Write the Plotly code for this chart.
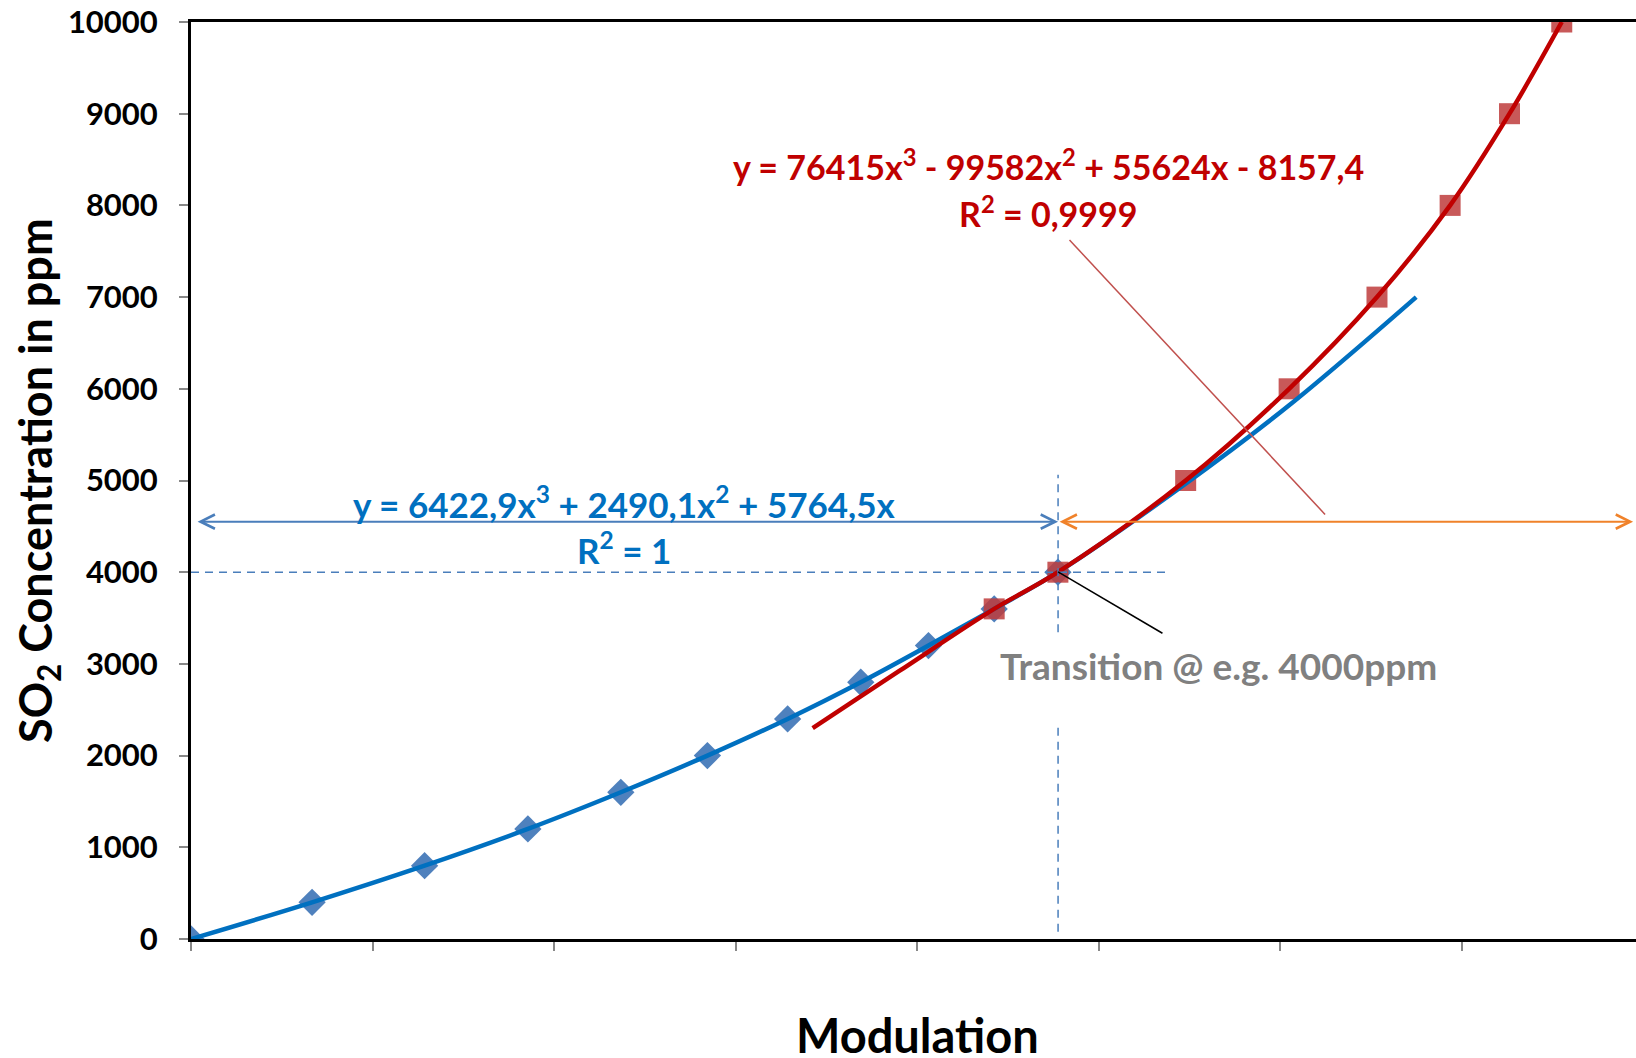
import plotly.graph_objects as go

# ---- data ----
blue_x = [0, 0.0667, 0.1287, 0.1856, 0.2368, 0.2845, 0.3287, 0.369, 0.4063, 0.4425, 0.4776]
blue_y = [0, 400, 800, 1200, 1600, 2000, 2400, 2800, 3200, 3600, 4000]

red_x = [0.4425, 0.4776, 0.548, 0.605, 0.6534, 0.6937, 0.7264, 0.7552]
red_y = [3600, 4000, 5000, 6000, 7000, 8000, 9000, 10000]

blue_trend_x = [0, 0.0667, 0.1287, 0.1856, 0.2368, 0.2845, 0.3287, 0.369, 0.4063,
                0.4425, 0.4776, 0.548, 0.605, 0.675]
blue_trend_y = [0, 400, 800, 1200, 1600, 2000, 2400, 2800, 3200, 3600, 4000, 4965, 5820, 7000]

red_trend_x = [0.3425, 0.39, 0.4425, 0.4776, 0.548, 0.605, 0.6534, 0.6937, 0.7264, 0.7552]
red_trend_y = [2300, 2920, 3600, 4000, 5000, 6000, 7000, 8000, 9000, 10000]

y_ticks = [0, 1000, 2000, 3000, 4000, 5000, 6000, 7000, 8000, 9000, 10000]
x_ticks = [0, 0.1, 0.2, 0.3, 0.4, 0.5, 0.6, 0.7, 0.8]

transition_x = 0.4777
transition_y = 4000
arrow_y = 4551

FONT = "Lato"
BLUE_TXT = "#0070c0"
RED_TXT = "#c00000"

fig = go.Figure()

fig.add_trace(go.Scatter(x=blue_x, y=blue_y, mode="markers",
                         marker=dict(symbol="diamond", size=21, color="#4f81bd"),
                         showlegend=False))
fig.add_trace(go.Scatter(x=red_x, y=red_y, mode="markers",
                         marker=dict(symbol="square", size=21, color="rgba(190,60,60,0.85)"),
                         showlegend=False))
fig.add_trace(go.Scatter(x=blue_trend_x, y=blue_trend_y, mode="lines",
                         line=dict(color="#0070c0", width=4.5, shape="spline", smoothing=1),
                         showlegend=False))
fig.add_trace(go.Scatter(x=red_trend_x, y=red_trend_y, mode="lines",
                         line=dict(color="#c00000", width=4.5, shape="spline", smoothing=1),
                         showlegend=False))

# dashed guide lines
dash_col = "#4a7ebb"
fig.add_shape(type="line", x0=0, x1=0.5375, y0=transition_y, y1=transition_y,
              line=dict(color=dash_col, width=1.5, dash="8px,6px"))
fig.add_shape(type="line", x0=transition_x, x1=transition_x, y0=3345, y1=5063,
              line=dict(color=dash_col, width=1.5, dash="8px,6px"))
fig.add_shape(type="line", x0=transition_x, x1=transition_x, y0=80, y1=2344,
              line=dict(color=dash_col, width=1.5, dash="8px,6px"))

# pointer lines
fig.add_shape(type="line", x0=transition_x, x1=0.5352, y0=4004, y1=3334,
              line=dict(color="black", width=1.5))
fig.add_shape(type="line", x0=0.484, x1=0.6248, y0=7623, y1=4630,
              line=dict(color="#c0504d", width=1.5))

# double arrows
fig.add_annotation(x=transition_x, y=arrow_y, ax=0.0028, ay=arrow_y, xref="x", yref="y",
                   axref="x", ayref="y", text="", showarrow=True, arrowhead=5,
                   startarrowhead=5, arrowside="end+start", arrowwidth=2, arrowsize=1.4,
                   startarrowsize=1.4, arrowcolor="#4a7ebb")
fig.add_annotation(x=0.7945, y=arrow_y, ax=transition_x, ay=arrow_y, xref="x", yref="y",
                   axref="x", ayref="y", text="", showarrow=True, arrowhead=5,
                   startarrowhead=5, arrowside="end+start", arrowwidth=2, arrowsize=1.4,
                   startarrowsize=1.4, arrowcolor="#f0822a")

def txt(x, y, s, color, size):
    fig.add_annotation(x=x, y=y, xref="x", yref="y", text=s, showarrow=False,
                       font=dict(family=FONT, size=size, color=color, weight="bold"),
                       xanchor="center", yanchor="middle")

txt(0.4725, 8440, "y = 76415x<sup>3</sup> - 99582x<sup>2</sup> + 55624x - 8157,4", RED_TXT, 34)
txt(0.4725, 7928, "R<sup>2</sup> = 0,9999", RED_TXT, 34)
txt(0.2386, 4766, "y = 6422,9x<sup>3</sup> + 2490,1x<sup>2</sup> + 5764,5x", BLUE_TXT, 35)
txt(0.2386, 4264, "R<sup>2</sup> = 1", BLUE_TXT, 35)
txt(0.5662, 2980, "Transition @ e.g. 4000ppm", "#808080", 37)

# axis titles
fig.add_annotation(x=-0.1062, y=0.5, xref="paper", yref="paper",
                   text="SO<sub>2</sub> Concentration in ppm", textangle=-90, showarrow=False,
                   font=dict(family=FONT, size=45, color="black", weight="bold"),
                   xanchor="center", yanchor="middle")
fig.add_annotation(x=(917 - 191) / 1445, y=-0.105, xref="paper", yref="paper",
                   text="Modulation", showarrow=False,
                   font=dict(family=FONT, size=47, color="black", weight="bold"),
                   xanchor="center", yanchor="middle")

fig.update_layout(
    width=1636, height=1058,
    margin=dict(l=191, r=0, t=22, b=119),
    paper_bgcolor="white", plot_bgcolor="white",
    xaxis=dict(range=[0, 0.7961], tickvals=x_ticks, showticklabels=False,
               ticks="outside", ticklen=9, tickwidth=1.5, tickcolor="#888888",
               showline=True, linecolor="black", linewidth=3, mirror=True,
               showgrid=False, zeroline=False),
    yaxis=dict(range=[0, 10000], tickvals=y_ticks, ticktext=[str(v) for v in y_ticks],
               ticks="outside", ticklen=9, tickwidth=1.5, tickcolor="#888888",
               tickfont=dict(family=FONT, size=31, color="black", weight="bold"),
               ticklabelstandoff=15,
               showline=True, linecolor="black", linewidth=3,
               showgrid=False, zeroline=False),
)

fig.write_html("out.html", config={"displayModeBar": False},
               post_script="document.body.style.margin='0';document.body.style.overflow='hidden';")
